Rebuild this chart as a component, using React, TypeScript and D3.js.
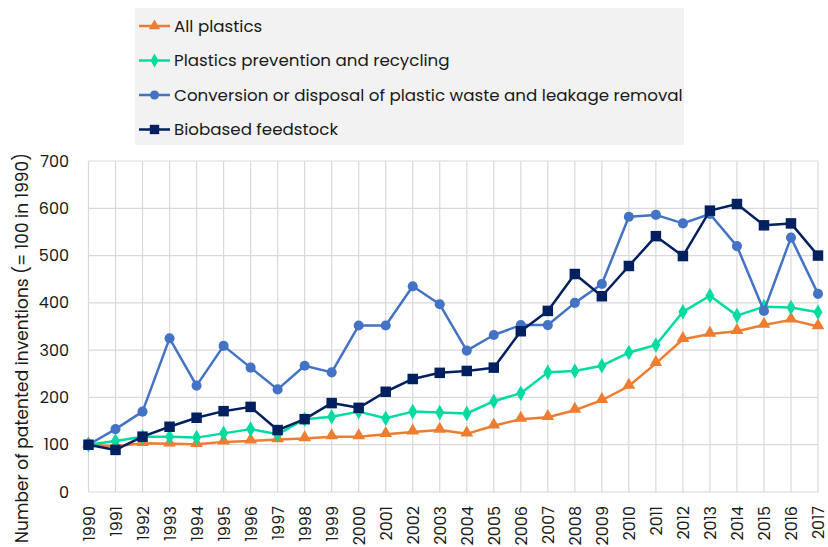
import React, { useEffect, useRef } from "react";
import * as d3 from "d3";

const years = d3.range(1990, 2018).map(String);
const yTicks = [0, 100, 200, 300, 400, 500, 600, 700];

const allPlastics = [100, 97, 103, 102, 101, 106, 108, 111, 113, 117, 117, 122, 127, 131, 123, 140, 154, 158, 173, 194, 224, 272, 323, 334, 340, 353, 364, 350];
const prevention = [100, 108, 117, 117, 115, 124, 133, 122, 154, 159, 170, 156, 170, 168, 166, 192, 209, 253, 256, 267, 295, 311, 381, 415, 373, 392, 390, 380];
const conversion = [100, 133, 170, 325, 225, 309, 263, 217, 267, 253, 352, 352, 435, 397, 299, 332, 353, 353, 400, 440, 582, 586, 568, 588, 520, 383, 538, 419];
const biobased = [100, 89, 117, 138, 157, 171, 180, 131, 154, 188, 178, 212, 239, 252, 256, 263, 340, 383, 461, 414, 478, 541, 499, 595, 609, 564, 568, 500];

const seriesNames = [
  "All plastics",
  "Plastics prevention and recycling",
  "Conversion or disposal of plastic waste and leakage removal",
  "Biobased feedstock",
];
const seriesColors = ["#ED7D31", "#00DCA0", "#4472C4", "#002060"];
const seriesSymbols = [d3.symbolTriangle, d3.symbolDiamond, d3.symbolCircle, d3.symbolSquare];
const seriesSizes = [70, 70, 80, 110];
const seriesData = [allPlastics, prevention, conversion, biobased];

const FONT = "Poppins, 'Noto Sans', sans-serif";

export default function App() {
  const ref = useRef<SVGSVGElement>(null);

  useEffect(() => {
    const svg = d3.select(ref.current);
    svg.selectAll("*").remove();

    const x = d3.scalePoint<string>().domain(years).range([88.5, 818]);
    const y = d3.scaleLinear().domain([0, 700]).range([492, 161]);

    // gridlines
    const grid = svg.append("g");
    grid
      .selectAll("line.h")
      .data(yTicks)
      .join("line")
      .attr("x1", 88.5)
      .attr("x2", 818)
      .attr("y1", (d) => y(d))
      .attr("y2", (d) => y(d))
      .attr("stroke", "#d9d9d9")
      .attr("stroke-width", 1.2);
    grid
      .selectAll("line.v")
      .data(years)
      .join("line")
      .attr("x1", (d) => x(d)!)
      .attr("x2", (d) => x(d)!)
      .attr("y1", y(700))
      .attr("y2", y(0))
      .attr("stroke", "#d9d9d9")
      .attr("stroke-width", 1.2);

    // y tick labels
    svg
      .append("g")
      .selectAll("text")
      .data(yTicks)
      .join("text")
      .attr("x", 69)
      .attr("y", (d) => y(d))
      .attr("dy", "0.35em")
      .attr("text-anchor", "end")
      .attr("font-family", FONT)
      .attr("font-size", 16)
      .attr("fill", "#1a1a1a")
      .text((d) => String(d));

    // x tick labels
    svg
      .append("g")
      .selectAll("text")
      .data(years)
      .join("text")
      .attr("transform", (d) => `translate(${x(d)! + 6},506) rotate(-90)`)
      .attr("text-anchor", "end")
      .attr("font-family", FONT)
      .attr("font-size", 16)
      .attr("fill", "#1a1a1a")
      .text((d) => d);

    // y axis title
    svg
      .append("text")
      .attr("transform", `translate(28,348) rotate(-90)`)
      .attr("text-anchor", "middle")
      .attr("font-family", FONT)
      .attr("font-size", 17)
      .attr("fill", "#1a1a1a")
      .text("Number of patented inventions (= 100 in 1990)");

    // lines and markers
    seriesData.forEach((vals, i) => {
      const line = d3
        .line<number>()
        .x((_, j) => x(years[j])!)
        .y((v) => y(v));
      svg
        .append("path")
        .datum(vals)
        .attr("d", line)
        .attr("fill", "none")
        .attr("stroke", seriesColors[i])
        .attr("stroke-width", 2.5)
        .attr("stroke-linejoin", "round");
      const sym = d3.symbol().type(seriesSymbols[i]).size(seriesSizes[i]);
      svg
        .append("g")
        .selectAll("path")
        .data(vals)
        .join("path")
        .attr("d", sym as any)
        .attr("transform", (v, j) => `translate(${x(years[j])},${y(v) + (i === 0 ? -1 : 0)})`)
        .attr("fill", seriesColors[i]);
    });

    // legend
    const lg = svg.append("g");
    lg.append("rect")
      .attr("x", 135)
      .attr("y", 8)
      .attr("width", 549)
      .attr("height", 137)
      .attr("fill", "#f2f2f2");
    seriesNames.forEach((name, i) => {
      const cy = 26 + i * 34.5;
      lg.append("line")
        .attr("x1", 139)
        .attr("x2", 170)
        .attr("y1", cy)
        .attr("y2", cy)
        .attr("stroke", seriesColors[i])
        .attr("stroke-width", 2.5);
      lg.append("path")
        .attr("d", d3.symbol().type(seriesSymbols[i]).size(seriesSizes[i] * 0.8)() as string)
        .attr("transform", `translate(154.5,${cy})`)
        .attr("fill", seriesColors[i]);
      lg.append("text")
        .attr("x", 174)
        .attr("y", cy)
        .attr("dy", "0.35em")
        .attr("font-family", FONT)
        .attr("font-size", 16.7)
        .attr("fill", "#1a1a1a")
        .text(name);
    });
  }, []);

  return (
    <div style={{ position: "absolute", left: 0, top: 0 }}>
      <svg ref={ref} width={828} height={547} style={{ display: "block", background: "#fff" }} />
    </div>
  );
}
